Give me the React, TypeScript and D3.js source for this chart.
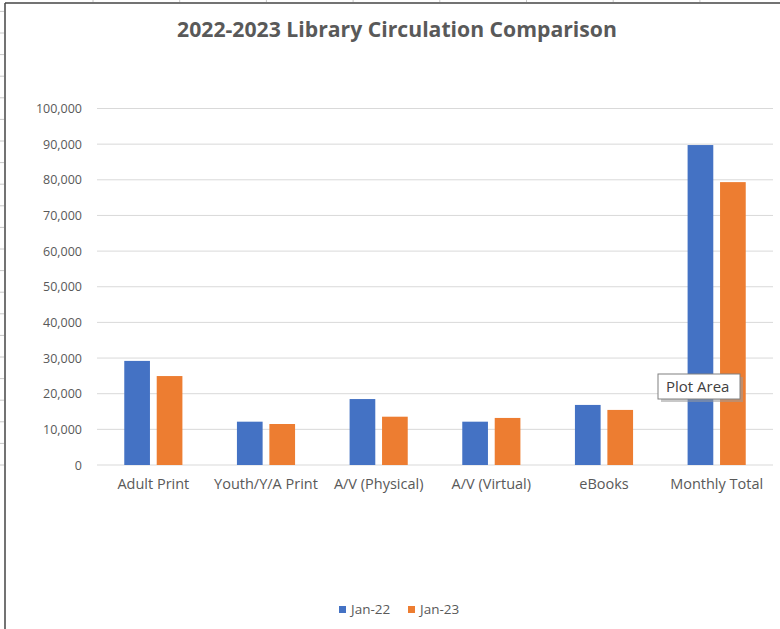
import React from "react";
import * as d3 from "d3";

const categories = ["Adult Print", "Youth/Y/A Print", "A/V (Physical)", "A/V (Virtual)", "eBooks", "Monthly Total"];
const seriesNames = ["Jan-22", "Jan-23"];
const jan22 = [29200, 12150, 18500, 12150, 16850, 89750];
const jan23 = [24950, 11500, 13550, 13200, 15450, 79350];
const yTicks = [0, 10000, 20000, 30000, 40000, 50000, 60000, 70000, 80000, 90000, 100000];
const colors = ["#4472C4", "#ED7D31"];

const W = 780;
const H = 629;
const plot = { left: 97, right: 773, top: 108.5, bottom: 465 };
const font = "'Open Sans', Lato, sans-serif";
const textColor = "#595959";

export default function App() {
  const x0 = d3.scaleBand<string>().domain(categories).range([plot.left, plot.right]).paddingInner(0).paddingOuter(0);
  const y = d3.scaleLinear().domain([0, 100000]).range([plot.bottom, plot.top]);
  const step = x0.bandwidth();
  const barW = step * 0.228;
  const gap = step * 0.06;
  const groupW = barW * 2 + gap;
  const x1 = d3.scaleOrdinal<number, number>().domain([0, 1]).range([0, barW + gap]);
  const fmt = d3.format(",");
  const series = [jan22, jan23];

  const rowTicks = d3.range(0, 29).map((k) => 465 - 21.6 * k).filter((v) => v > 4 && v < H);
  const colTicks = d3.range(0, 9).map((k) => 93 + 86.7 * k).filter((v) => v < W);

  return (
    <svg width={W} height={H} style={{ position: "absolute", left: 0, top: 0, background: "#fff" }}>
      <rect x={0} y={0} width={W} height={H} fill="#fff" />
      {rowTicks.map((t, i) => (
        <line key={"r" + i} x1={0} x2={4} y1={t} y2={t} stroke="#c8c8c8" strokeWidth={1} />
      ))}
      {colTicks.map((t, i) => (
        <line key={"c" + i} x1={t} x2={t} y1={0} y2={2} stroke="#c8c8c8" strokeWidth={1} />
      ))}
      <line x1={5} x2={5} y1={3} y2={H} stroke="#444" strokeWidth={1.5} />
      <line x1={5} x2={W} y1={3} y2={3} stroke="#444" strokeWidth={1.5} />

      <text x={397} y={37} textAnchor="middle" fontFamily={font} fontWeight={700} fontSize={21.2} fill={textColor}>
        2022-2023 Library Circulation Comparison
      </text>

      {yTicks.map((t) => (
        <g key={t}>
          <line x1={plot.left} x2={plot.right} y1={y(t)} y2={y(t)} stroke="#d9d9d9" strokeWidth={1} />
          <text x={82} y={y(t) + 4.5} textAnchor="end" fontFamily={font} fontSize={12.5} fill={textColor}>
            {fmt(t)}
          </text>
        </g>
      ))}

      {categories.map((c, i) => {
        const start = (x0(c) as number) + (step - groupW) / 2;
        return (
          <g key={c}>
            {series.map((s, j) => (
              <rect
                key={j}
                x={start + x1(j)}
                y={y(s[i])}
                width={barW}
                height={plot.bottom - y(s[i])}
                fill={colors[j]}
              />
            ))}
            <text x={(x0(c) as number) + step / 2} y={489} textAnchor="middle" fontFamily={font} fontSize={14.5} fill={textColor}>
              {c}
            </text>
          </g>
        );
      })}

      {seriesNames.map((n, j) => {
        const lx = 339 + j * 69;
        return (
          <g key={n}>
            <rect x={lx} y={606} width={7} height={7} fill={colors[j]} />
            <text x={lx + 12} y={614} fontFamily={font} fontSize={13.5} fill={textColor}>
              {n}
            </text>
          </g>
        );
      })}

      <rect x={661} y={377} width={82} height={25} fill="#9a9a9a" opacity={0.55} />
      <rect x={658} y={374} width={82} height={25} fill="#fff" stroke="#808080" strokeWidth={1} />
      <text x={666} y={392} fontFamily={font} fontSize={15} fill="#404040">
        Plot Area
      </text>
    </svg>
  );
}
